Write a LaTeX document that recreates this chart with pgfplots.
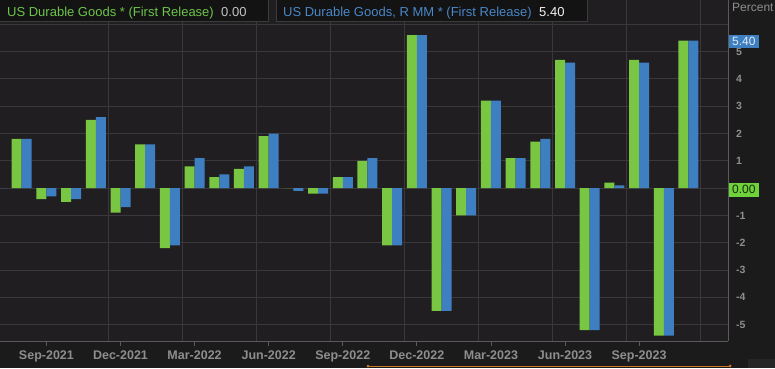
\documentclass[border=0pt]{standalone}
\usepackage{pgfplots}
\pgfplotsset{compat=1.18}
\usepackage{pgfplotstable}
\usepackage{fontspec}
\setmainfont{Liberation Sans}
\definecolor{bgout}{HTML}{1B1B1B}
\definecolor{bgplot}{HTML}{201E20}
\definecolor{gridc}{HTML}{3A383A}
\definecolor{axisc}{HTML}{5A5A5A}
\definecolor{gbar}{HTML}{78C641}
\definecolor{bbar}{HTML}{3E7FC1}
\definecolor{gtext}{HTML}{6CC44A}
\definecolor{btext}{HTML}{4A86C8}
\definecolor{ticktext}{HTML}{8E8E8E}
\definecolor{boxbg}{HTML}{131313}
\definecolor{boxborder}{HTML}{3C3C3C}
\definecolor{valtext}{HTML}{C4C4C4}
\definecolor{zerobox}{HTML}{6FD23A}
\definecolor{navline}{HTML}{C8782A}

\pgfplotstableread{
x g b
0 -0.1 0
1 1.8 1.8
2 -0.4 -0.3
3 -0.5 -0.4
4 2.5 2.6
5 -0.9 -0.7
6 1.6 1.6
7 -2.2 -2.1
8 0.8 1.1
9 0.4 0.5
10 0.7 0.8
11 1.9 2.0
12 0.0 -0.1
13 -0.2 -0.2
14 0.4 0.4
15 1.0 1.1
16 -2.1 -2.1
17 5.6 5.6
18 -4.5 -4.5
19 -1.0 -1.0
20 3.2 3.2
21 1.1 1.1
22 1.7 1.8
23 4.7 4.6
24 -5.2 -5.2
25 0.2 0.1
26 4.7 4.6
27 -5.4 -5.4
28 5.4 5.4
}\data

\begin{document}
\begin{tikzpicture}[x=1pt,y=1pt]
\useasboundingbox (0,0) rectangle (775,368);
\clip (0,0) rectangle (775,368);
\fill[bgout] (0,0) rectangle (775,368);
\begin{axis}[
  at={(0pt,27pt)}, anchor=south west,
  scale only axis, width=728pt, height=341pt,
  xmin=0.12, xmax=29.6, ymin=-5.6, ymax=6.89,
  axis background/.style={fill=bgplot},
  axis x line*=bottom, axis y line*=right,
  axis line style={draw=axisc, line width=0.8pt},
  ybar, bar width=10pt,
  ytick={-5,...,6},
  yticklabels={-5,-4,-3,-2,-1,{},1,2,3,4,5,{}},
  ymajorgrids, major grid style={draw=gridc, line width=0.8pt},
  xtick={2,5,...,26},
  xticklabels={Sep-2021,Dec-2021,Mar-2022,Jun-2022,Sep-2022,Dec-2022,Mar-2023,Jun-2023,Sep-2023},
  minor xtick={4.5,7.5,...,28.5},
  xminorgrids, minor grid style={draw=gridc, line width=0.8pt},
  minor tick length=0pt,
  tick align=outside,
  xtick style={draw=axisc, line width=0.8pt},
  major tick length=5pt,
  ytick style={draw=none},
  xticklabel style={font=\bfseries\fontsize{12.5}{14}\selectfont, text=ticktext, inner sep=0pt, yshift=-5pt},
  yticklabel style={font=\bfseries\fontsize{10.5}{12}\selectfont, text=ticktext, anchor=west, inner sep=0pt, xshift=3pt},
]
\addplot[fill=gbar, draw=none, bar shift=-5pt] table[x=x,y=g]{\data};
\addplot[fill=bbar, draw=none, bar shift=5pt] table[x=x,y=b]{\data};
\end{axis}
% legend boxes
\draw[boxborder, fill=boxbg, line width=0.8pt] (-2,346.5) rectangle (268,370);
\draw[boxborder, fill=boxbg, line width=0.8pt] (276,346.5) rectangle (587,370);
\node[anchor=base west, inner sep=0pt, text=gtext, font=\fontsize{13}{15}\selectfont] at (7,352) {US Durable Goods * (First Release)};
\node[anchor=base west, inner sep=0pt, text=valtext, font=\fontsize{13}{15}\selectfont] at (221,352) {0.00};
\node[anchor=base west, inner sep=0pt, text=btext, font=\fontsize{13}{15}\selectfont] at (283,352) {US Durable Goods, R MM * (First Release)};
\node[anchor=base west, inner sep=0pt, text=white!90!gray, font=\fontsize{13}{15}\selectfont] at (539,352) {5.40};
\node[anchor=base west, inner sep=0pt, text=ticktext, font=\fontsize{12}{14}\selectfont] at (732,356) {Percent};
% value boxes on the right
\node[anchor=west, fill=bbar, text=white!85!bbar, inner xsep=3pt, inner ysep=0pt, minimum height=13pt, font=\fontsize{12}{13}\selectfont] at (729,327) {5.40};
\node[anchor=west, fill=zerobox, text=black!80!zerobox, inner xsep=3pt, inner ysep=0pt, minimum height=14pt, font=\fontsize{12}{13}\selectfont] at (729,178.5) {0.00};
% navigator strip
\draw[navline, line width=1pt] (368,2) -- (730,2);
\fill[navline] (368,2) circle (1.5);
\fill[navline] (730,2) circle (1.5);
\fill[black!70!gray] (748,0) rectangle (775,9);
\end{tikzpicture}
\end{document}
